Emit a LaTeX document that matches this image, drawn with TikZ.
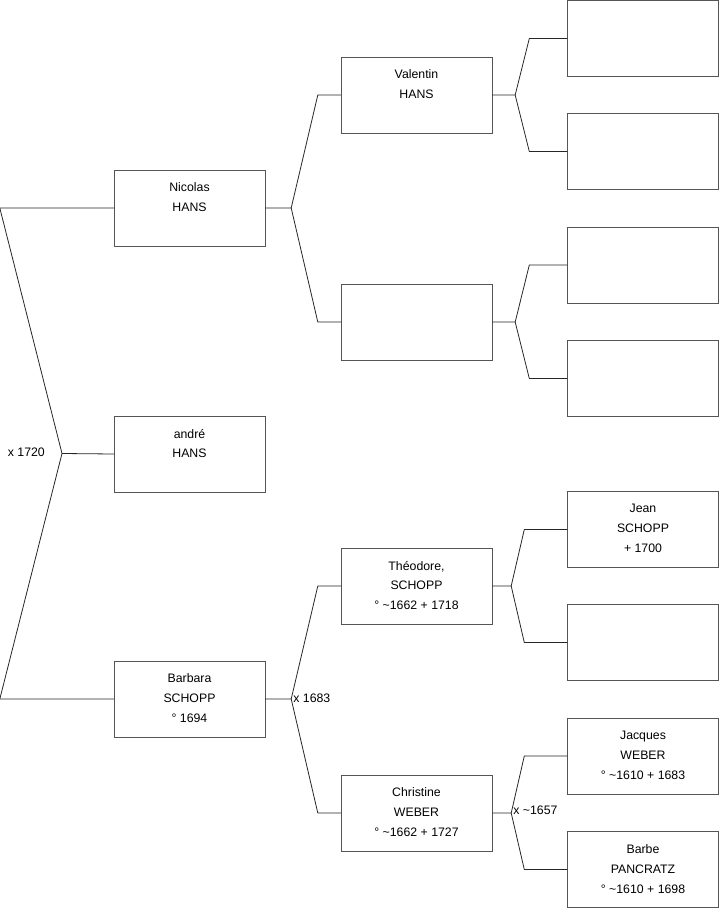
\documentclass[tikz,border=0pt]{standalone}
\usepackage{fontspec}
\setmainfont{Liberation Sans}
\usetikzlibrary{positioning, calc}

\definecolor{boxline}{HTML}{555555}
\tikzset{
  person/.style={draw=boxline, rectangle, fill=white, minimum width=151pt, minimum height=76pt, inner sep=0pt},
  who/.style={label={[anchor=north, align=center, inner sep=0pt, yshift=-13pt, font=\fontsize{12.3}{19.8}\selectfont]north:#1}},
  link/.style={draw=black!85, line width=0.8pt, line join=round},
  wed/.style={font=\fontsize{12.3}{14}\selectfont, inner sep=1pt}
}

\begin{document}
\begin{tikzpicture}[x=1pt, y=-1pt]
    \useasboundingbox (0,0) rectangle (719,908);
    % first column
    \node[person, who={Nicolas\\HANS}] (nicolas) at (189.5, 208) {};
    \node[person, who={andré\\HANS}] (andre) at (189.5, 454) {};
    \node[person, who={Barbara\\SCHOPP\\° 1694}] (barbara) at (189.5, 699) {};
    % second column
    \node[person, who={Valentin\\HANS}] (valentin) at (416.5, 95) {};
    \node[person] (nicmother) at (416.5, 322) {};
    \node[person, who={Théodore,\\SCHOPP\\° \textasciitilde 1662 + 1718}] (theodore) at (416.5, 586) {};
    \node[person, who={Christine\\WEBER\\° \textasciitilde 1662 + 1727}] (christine) at (416.5, 813) {};
    % third column
    \node[person] (valfather) at (643, 38.5) {};
    \node[person] (valmother) at (643, 151.5) {};
    \node[person] (mgfather) at (643, 265) {};
    \node[person] (mgmother) at (643, 378.5) {};
    \node[person, who={Jean\\SCHOPP\\+ 1700}] (jean) at (643, 529.5) {};
    \node[person] (theomother) at (643, 642.5) {};
    \node[person, who={Jacques\\WEBER\\° \textasciitilde 1610 + 1683}] (jacques) at (643, 756) {};
    \node[person, who={Barbe\\PANCRATZ\\° \textasciitilde 1610 + 1698}] (barbe) at (643, 869.5) {};

    % couple of andre
    \coordinate (c0) at (62, 453.5);
    \draw[link] (nicolas.west) -- ++(-114pt,0) -- (c0) -- (andre.west);
    \draw[link] (c0) -- ($(barbara.west)+(-114pt,0)$) -- (barbara.west);
    \node[wed, anchor=east] (w0) at ($(c0)+(-16pt,1.5pt)$) {x 1720};

    % parents of Nicolas
    \draw[link] (nicolas.east) -- ++(26pt,0) coordinate (c1) -- ([xshift=-23pt]valentin.west) -- (valentin.west);
    \draw[link] (c1) -- ([xshift=-23pt]nicmother.west) -- (nicmother.west);

    % parents of Barbara
    \draw[link] (barbara.east) -- ++(26pt,0) coordinate (c2) -- ([xshift=-23pt]theodore.west) -- (theodore.west);
    \draw[link] (c2) -- ([xshift=-23pt]christine.west) -- (christine.west);
    \node[wed, anchor=west] (w2) at ($(c2)+(1pt,1pt)$) {x 1683};

    % grandparents
    \draw[link] (valentin.east) -- ++(23pt,0) coordinate (c3) -- ([xshift=-38pt]valfather.west) -- (valfather.west);
    \draw[link] (c3) -- ([xshift=-38pt]valmother.west) -- (valmother.west);
    \draw[link] (nicmother.east) -- ++(23pt,0) coordinate (c4) -- ([xshift=-38pt]mgfather.west) -- (mgfather.west);
    \draw[link] (c4) -- ([xshift=-38pt]mgmother.west) -- (mgmother.west);
    \draw[link] (theodore.east) -- ++(19pt,0) coordinate (c5) -- ([xshift=-43pt]jean.west) -- (jean.west);
    \draw[link] (c5) -- ([xshift=-43pt]theomother.west) -- (theomother.west);
    \draw[link] (christine.east) -- ++(19pt,0) coordinate (c6) -- ([xshift=-43pt]jacques.west) -- (jacques.west);
    \draw[link] (c6) -- ([xshift=-43pt]barbe.west) -- (barbe.west);
    \node[wed, anchor=west] (w6) at ($(c6)+(1pt,3pt)$) {x \textasciitilde 1657};
\end{tikzpicture}
\end{document}
